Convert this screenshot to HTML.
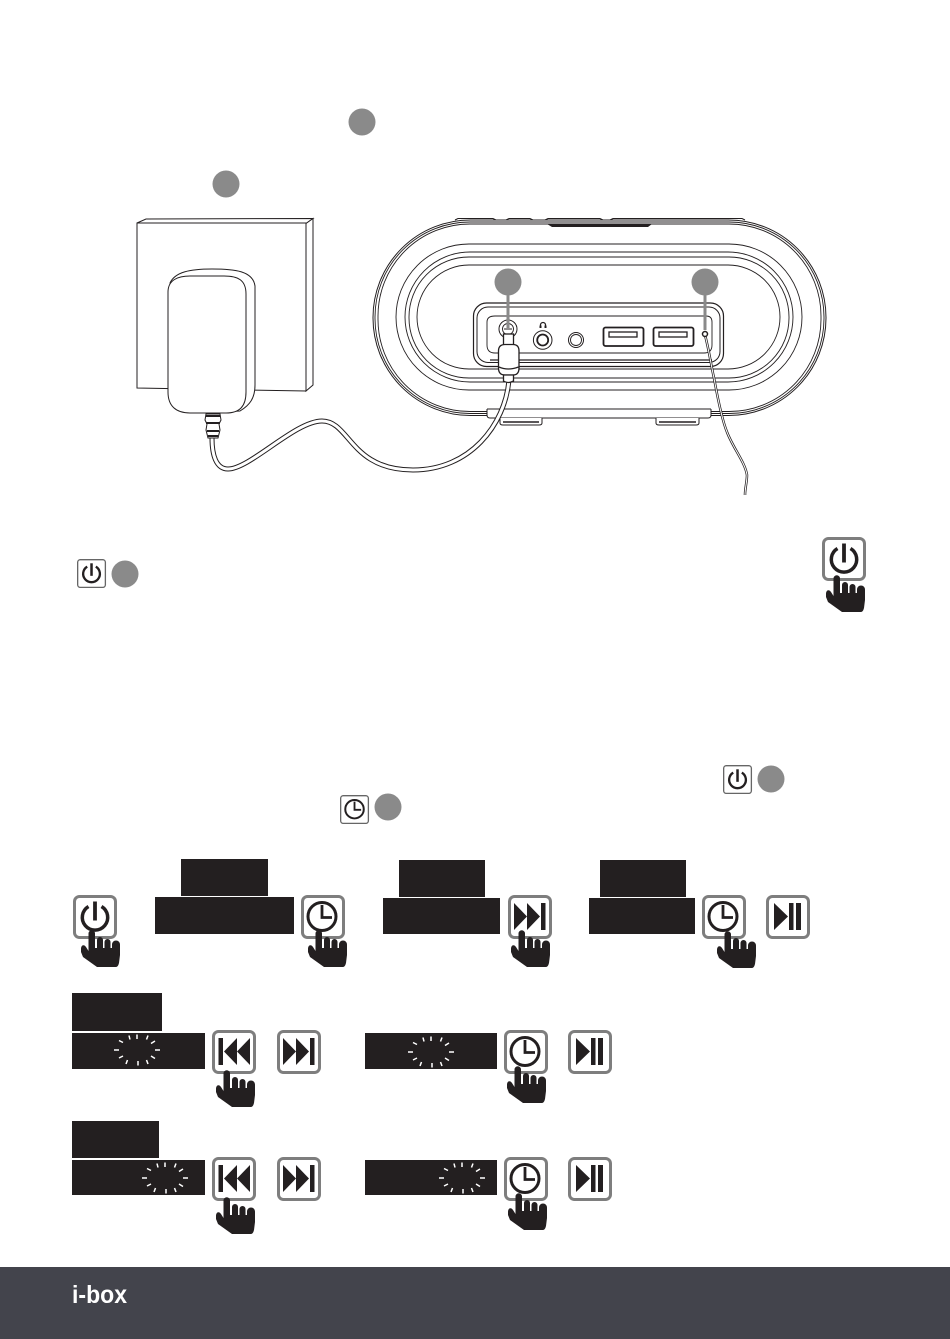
<!DOCTYPE html>
<html><head><meta charset="utf-8"><style>
html,body{margin:0;padding:0;background:#fff}
svg{display:block}
</style></head><body>
<svg width="950" height="1339" viewBox="0 0 950 1339" xmlns="http://www.w3.org/2000/svg">
<defs>
<g id="hand" fill="#231f20">
<path d="M15.500,38.500A3.250,3.250 0 0 1 22,38.500V54H15.500Z"/>
<path d="M24,45A3,3 0 0 1 30,45V55H24Z"/>
<path d="M31.500,47A3,3 0 0 1 37.500,47V55H31.500Z"/>
<path d="M39,49.500A4,4 0 0 1 47,49.500V60L46,68Q45,72 43,72H24L10,62L8,57V54C8,50 11,49 13,52L15.500,56V53H39Z"/>
</g>
<rect id="btn" x="1.500" y="1.500" width="41" height="41" rx="5" fill="#fff" stroke="#7e7e7e" stroke-width="3"/>
<rect id="sbtn" x="1" y="1" width="42" height="42" rx="4" fill="#fff" stroke="#666" stroke-width="2"/>
<g id="pw" fill="none" stroke="#231f20"><path d="M15.500,11.500A12.700,12.700 0 1 0 28.500,11.500" stroke-width="3.500"/><path d="M22,6.500V25.500" stroke-width="3.800"/></g>
<g id="ck" fill="none" stroke="#231f20"><circle cx="21" cy="21.500" r="14" stroke-width="3"/><path d="M21,10V22.500H31" stroke-width="2.800"/></g>
<g id="nx" fill="#231f20"><path d="M6,8L19,21.500L6,35Z"/><path d="M19,8L32,21.500L19,35Z"/><rect x="33" y="8" width="4.500" height="27"/></g>
<g id="pv" fill="#231f20"><rect x="6.500" y="8" width="4.500" height="27"/><path d="M25,8L12,21.500L25,35Z"/><path d="M38,8L25,21.500L38,35Z"/></g>
<g id="pp" fill="#231f20"><path d="M8,8L22,21.500L8,35Z"/><rect x="23" y="8" width="4.500" height="27"/><rect x="30" y="8" width="5" height="27"/></g>
<g id="sp" stroke="#fff" stroke-width="1.500" fill="none"><path d="M0,-15.500V-11M-8,-14.500L-7,-10.500M-18,-9.500L-14,-7.500M-23,0H-18M-18,8L-14,6M-11,14L-9.500,10M1,15.500V11M11,14L9.500,10M18,8.500L14,6M23,0H18M18,-9L14,-6.500M11,-14.500L9.500,-10.500"/></g>
</defs>
<rect width="950" height="1339" fill="#fff"/>

<!-- wall -->
<g fill="#fff" stroke="#231f20" stroke-width="1">
<path d="M137,223L146,219L313,218.500L306,223.500Z"/>
<path d="M306,223.500L313,218.500V385L306,391Z"/>
<path d="M137,223H306V391L137,388Z"/>
</g>
<!-- adapter -->
<path d="M170,283C175,272 190,269 212,269C235,269 253,271 255,286V385C255,398 250,405 240,411L200,413Z" fill="#fff" stroke="#231f20"/>
<path d="M168,292C168,280 178,276 190,276H224C238,276 246,280 246,294V392C246,406 240,413 226,413H190C176,413 168,406 168,392Z" fill="#fff" stroke="#231f20"/>

<!-- device outer -->
<g fill="none" stroke="#231f20" stroke-width=".9">
<rect x="373" y="220" width="453" height="195.500" rx="97.500" fill="#fff" stroke-width="1"/>
<rect x="375" y="222" width="449" height="191.500" rx="95"/>
<rect x="378" y="224" width="443" height="187.500" rx="92"/>
<rect x="396" y="244" width="406" height="146" rx="73"/>
<rect x="405" y="252" width="388" height="130" rx="65"/>
<rect x="409" y="257" width="380" height="121" rx="60"/>
<rect x="417" y="265" width="363" height="104" rx="52"/>
</g>
<path d="M455,220L458,218.500H493L496,220H506L509,218.500H530L533,220H545L548,218.500H600L603,220H610L613,218.500H735L742,218.500L745,220" fill="none" stroke="#231f20" stroke-width="1"/>
<path d="M547,224H652L648,227H552Z" fill="#231f20"/>
<!-- base and feet -->
<path d="M487,409V415Q487,418 490,418H708Q711,418 711,415V409" fill="#fff" stroke="#231f20"/>
<path d="M487,409H711" stroke="#231f20"/>
<path d="M500,418V423Q500,425 503,425H539Q542,425 542,423V418M656,418V423Q656,425 659,425H696Q699,425 699,423V418" fill="#fff" stroke="#231f20"/>
<path d="M503,422H539M659,422H696" stroke="#231f20" stroke-width="1.500"/>

<!-- panel -->
<g fill="none" stroke="#231f20">
<rect x="473.500" y="303" width="250" height="63.500" rx="13" fill="#fff" stroke-width="1.200"/>
<rect x="477" y="307" width="243" height="55.500" rx="11" stroke-width="1"/>
<path d="M495,316H706Q712,316 712,322V345Q712,353 704,353H495Q487,353 487,345V322Q487,316 495,316Z" stroke-width=".9"/>
<path d="M490,360H712" stroke-width="1.300"/>
<path d="M395,369H805" stroke-width=".9" opacity="0"/>
</g>
<!-- jacks -->
<g fill="#fff" stroke="#231f20">
<circle cx="508" cy="329" r="9" stroke-width="1"/><circle cx="508" cy="329" r="5.500" stroke-width=".9"/><path d="M504,329H512"/>
<circle cx="542.700" cy="340" r="9.300" stroke-width="1"/><circle cx="542.700" cy="340" r="5.500" stroke-width="1.800"/>
<circle cx="576" cy="340" r="7.500" stroke-width="1"/><circle cx="576" cy="340" r="5.500" stroke-width=".9"/>
<rect x="603.500" y="327.500" width="40" height="18.500" rx="2" stroke-width="1.800"/>
<rect x="653.500" y="327.500" width="40" height="18.500" rx="2" stroke-width="1.800"/>
<rect x="609" y="332" width="28" height="5" stroke-width="1.300"/>
<rect x="659" y="332" width="28" height="5" stroke-width="1.300"/>
</g>
<path d="M540.500,327V325A2.500,2.500 0 0 1 545.500,325V327" fill="none" stroke="#231f20" stroke-width="1.200"/>
<rect x="539.500" y="325.500" width="2" height="2.500" fill="#231f20"/><rect x="544.500" y="325.500" width="2" height="2.500" fill="#231f20"/>

<!-- cables -->
<path d="M212,438C212,455 216,469 228,469C250,469 295,421 322,421C350,421 350,470 413,470C470,470 505,425 509,380" fill="none" stroke="#231f20" stroke-width="5"/>
<path d="M212,438C212,455 216,469 228,469C250,469 295,421 322,421C350,421 350,470 413,470C470,470 505,425 509,380" fill="none" stroke="#fff" stroke-width="3"/>
<path d="M705,335C709,350 711,365 714,378C718,400 722,420 727,432C733,448 745,462 747,475C747,482 745,488 745,495" fill="none" stroke="#231f20" stroke-width="2.500"/>
<path d="M705,335C709,350 711,365 714,378C718,400 722,420 727,432C733,448 745,462 747,475C747,482 745,488 745,495" fill="none" stroke="#fff" stroke-width="1"/>
<circle cx="705" cy="334" r="2.500" fill="#fff" stroke="#231f20" stroke-width="1.500"/>
<!-- strain relief -->
<path d="M206,414H220L221,420L219,424L220,430L218,438H208L206,430L207,424L205,420Z" fill="#fff" stroke="#231f20"/>
<path d="M206,416H220M206,423H220M207,431H219M208,436H218" stroke="#231f20" stroke-width="2" fill="none"/>
<!-- plug -->
<g fill="#fff" stroke="#231f20" stroke-width="1.300">
<rect x="503.500" y="334" width="10" height="12"/>
<path d="M498.500,351Q498.500,344.500 505,344.500H513Q519,344.500 519,351V368Q519,375 513,375H505Q498.500,375 498.500,368Z"/>
<path d="M503.500,375H513.500V381Q508,384 503.500,381Z"/>
</g>
<path d="M499,367Q508,371 518.500,367" fill="none" stroke="#231f20" stroke-width="1.300"/>
<!-- callouts -->
<g fill="#8a8a8a">
<circle cx="362" cy="122" r="13.500"/><circle cx="226" cy="184" r="13.500"/>
<circle cx="508" cy="282" r="13.500"/><circle cx="705" cy="282" r="13.500"/>
<rect x="506.500" y="282" width="3" height="46"/><rect x="703.500" y="282" width="3" height="48"/>
<circle cx="125" cy="574" r="13.500"/><circle cx="771" cy="779" r="13.500"/><circle cx="388" cy="807" r="13.500"/>
</g>

<!-- small buttons -->
<g transform="translate(77,559) scale(.66)"><use href="#sbtn"/><use href="#pw"/></g>
<g transform="translate(723,765) scale(.66)"><use href="#sbtn"/><use href="#pw"/></g>
<g transform="translate(340,795) scale(.66)"><use href="#sbtn"/><use href="#ck" transform="translate(1,0)"/></g>

<!-- top right -->
<g transform="translate(822,537)"><use href="#btn"/><use href="#pw"/><use href="#hand" transform="translate(-4,3)"/></g>

<!-- black boxes -->
<g fill="#231f20">
<rect x="181" y="859" width="87" height="37"/><rect x="155" y="897" width="139" height="37"/>
<rect x="399" y="860" width="86" height="37"/><rect x="383" y="898" width="117" height="36"/>
<rect x="600" y="860" width="86" height="37"/><rect x="589" y="898" width="106" height="36"/>
<rect x="72" y="993" width="90" height="38"/><rect x="72" y="1033" width="133" height="36"/>
<rect x="365" y="1033" width="132" height="36"/>
<rect x="72" y="1121" width="87" height="37"/><rect x="72" y="1160" width="133" height="35"/>
<rect x="365" y="1160" width="132" height="35"/>
</g>
<use href="#sp" transform="translate(137,1050)"/>
<use href="#sp" transform="translate(431,1052)"/>
<use href="#sp" transform="translate(165,1178)"/>
<use href="#sp" transform="translate(462,1178)"/>

<!-- row 1 -->
<g transform="translate(73,895)"><use href="#btn"/><use href="#pw"/><use href="#hand"/></g>
<g transform="translate(301,895)"><use href="#btn"/><use href="#ck"/><use href="#hand" transform="translate(-1,0)"/></g>
<g transform="translate(508,895)"><use href="#btn"/><use href="#nx"/><use href="#hand" transform="translate(-5,0)"/></g>
<g transform="translate(702,895)"><use href="#btn"/><use href="#ck"/><use href="#hand" transform="translate(7,1)"/></g>
<g transform="translate(766,895)"><use href="#btn"/><use href="#pp"/></g>
<!-- row 2 -->
<g transform="translate(212,1030)"><use href="#btn"/><use href="#pv"/><use href="#hand" transform="translate(-4,5)"/></g>
<g transform="translate(277,1030)"><use href="#btn"/><use href="#nx"/></g>
<g transform="translate(504,1030)"><use href="#btn"/><use href="#ck"/><use href="#hand" transform="translate(-5,1)"/></g>
<g transform="translate(568,1030)"><use href="#btn"/><use href="#pp"/></g>
<!-- row 3 -->
<g transform="translate(212,1157)"><use href="#btn"/><use href="#pv"/><use href="#hand" transform="translate(-4,5)"/></g>
<g transform="translate(277,1157)"><use href="#btn"/><use href="#nx"/></g>
<g transform="translate(504,1157)"><use href="#btn"/><use href="#ck"/><use href="#hand" transform="translate(-4,1)"/></g>
<g transform="translate(568,1157)"><use href="#btn"/><use href="#pp"/></g>

<!-- footer -->
<rect x="0" y="1267" width="950" height="72" fill="#43444c"/>
<text x="72" y="1303" font-family="Liberation Sans, sans-serif" font-weight="bold" font-size="25" fill="#fff" textLength="55" lengthAdjust="spacingAndGlyphs">i-box</text>
</svg>
</body></html>
